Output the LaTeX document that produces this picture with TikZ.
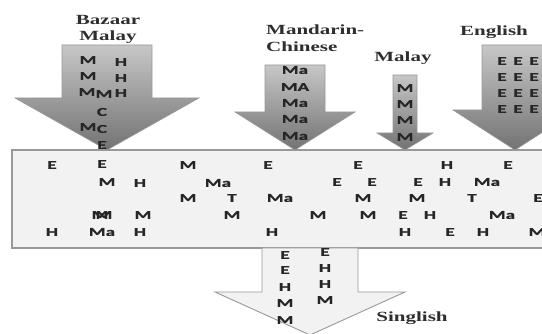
\documentclass[tikz,border=0pt]{standalone}
\usepackage{fontspec}
\newfontfamily\lett[FakeStretch=1.6,FakeBold=1.2]{Carlito}
\newfontfamily\ttlf[FakeStretch=1.5]{Liberation Serif}
\tikzset{
 lt/.style={font=\lett\bfseries\fontsize{12}{12}\selectfont, text=black!85, inner sep=0pt, anchor=center},
 ttl/.style={font=\ttlf\bfseries\fontsize{14}{14}\selectfont, text=black!82, inner sep=0pt},
 inarrow/.style={draw=black!40, line width=0.6pt, top color=black!22, bottom color=black!55},
 bandbox/.style={draw=black!40, fill=black!5, line width=1.1pt},
 outarrow/.style={draw=black!40, fill=black!5, line width=0.9pt}
}
\newcommand\dnarr[7]{\path[#7] (#1-#2,#4) -- (#1+#2,#4) -- (#1+#2,#5) -- (#1+#3,#5) -- (#1,#6) -- (#1-#3,#5) -- (#1-#2,#5) -- cycle;}
\begin{document}
\begin{tikzpicture}[x=1pt,y=-1pt]
\useasboundingbox (0,0) rectangle (542,334);
\clip (0,0) rectangle (542,334);
% band
\path[bandbox] (12,150) rectangle (562,248);
% bottom arrow
\dnarr{310}{48}{95}{248}{292}{335}{outarrow}
% top arrows
\dnarr{107}{45}{92}{45}{98}{150}{inarrow}
\dnarr{295}{30}{60}{65}{112}{150}{inarrow}
\dnarr{405}{12}{28}{75}{133}{150}{inarrow}
\dnarr{515}{33}{62}{45}{110}{150}{inarrow}
% titles
\node[ttl] (bz1) at (108,20) {Bazaar};
\node[ttl] (bz2) at (108,37) {Malay};
\node[ttl,anchor=west] (mc1) at (266,30) {Mandarin-};
\node[ttl,anchor=west] (mc2) at (266,47) {Chinese};
\node[ttl] (ml) at (403,58) {Malay};
\node[ttl] (en) at (494,32) {English};
\node[ttl] (sg) at (412,318) {Singlish};
% Bazaar Malay letters
\foreach \x/\y/\t [count=\i] in {88/60/M,121/62/H,88/76/M,121/78/H,87/92/M,104/94/M,121/93/H,102/112/C,88/127/M,102/129/C,102/145/E}
  \node[lt] (bm\i) at (\x,\y) {\t};
% Mandarin letters
\foreach \x/\y/\t [count=\i] in {295/70/Ma,295/87/MA,295/103/Ma,295/119/Ma,295/136/Ma}
  \node[lt] (mc\i) at (\x,\y) {\t};
% Malay letters
\foreach \y [count=\i] in {88,104,120,137}
  \node[lt] (my\i) at (405,\y) {M};
% English letters
\foreach \y [count=\j] in {61,77,93,109}
  \foreach \x [count=\k] in {502,518,534}
    \node[lt] (en\j\k) at (\x,\y) {E};
% band letters
\foreach \x/\y/\t [count=\i] in {
  52/165/E,102/164/E,188/165/M,268/165/E,358/165/E,447/165/H,508/165/E,
  107/182/M,140/183/H,218/183/Ma,337/182/E,372/182/E,418/182/E,445/182/H,487/182/Ma,
  188/198/M,232/198/T,280/198/Ma,363/198/M,417/198/M,472/198/T,538/198/E,
  100/215/M,104/215/M,143/215/M,232/215/M,318/215/M,368/215/M,403/215/E,430/215/H,502/215/Ma,
  52/232/H,102/232/Ma,140/232/H,272/232/H,405/232/H,450/232/E,483/232/H,537/232/M}
  \node[lt] (bd\i) at (\x,\y) {\t};
% Singlish letters
\foreach \x/\y/\t [count=\i] in {285/255/E,285/270/E,285/287/H,285/303/M,285/320/M,325/252/E,325/268/H,325/284/H,325/300/M}
  \node[lt] (sl\i) at (\x,\y) {\t};
\end{tikzpicture}
\end{document}
